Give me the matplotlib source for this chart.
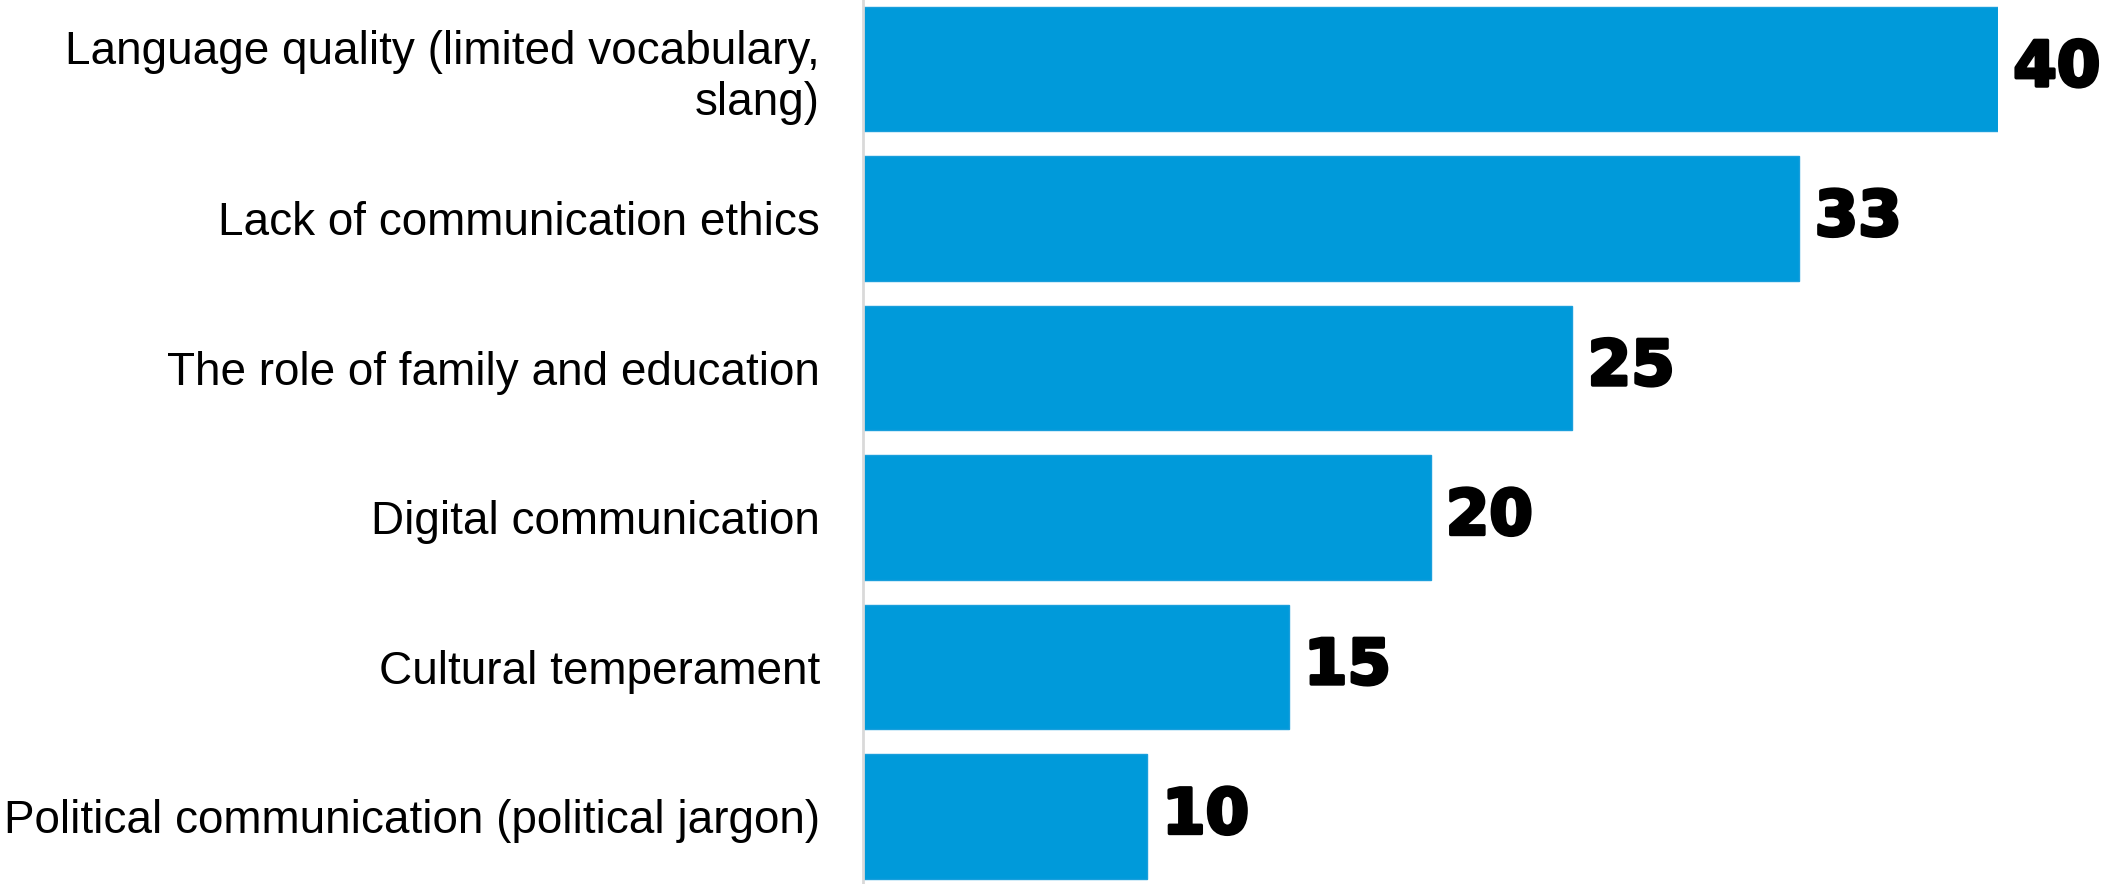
import matplotlib.pyplot as plt
import matplotlib.patheffects as pe

# data
labels = [
    "Language quality (limited vocabulary,\nslang)",
    "Lack of communication ethics",
    "The role of family and education",
    "Digital communication",
    "Cultural temperament",
    "Political communication (political jargon)",
]
values = [40, 33, 25, 20, 15, 10]

fig = plt.figure(figsize=(21.03, 8.84), dpi=100)
ax = fig.add_axes([0.4104, 0.0, 0.5397, 1.0])

y = list(range(len(values)))
ax.barh(y, values, height=0.833, color="#009ADA", edgecolor="#1a9fdc", linewidth=1)

ax.set_xlim(0, 40)
ax.set_ylim(5.452, -0.4615)

for yi, v in zip(y, values):
    ax.annotate(str(v), (v, yi), xytext=(11, 0), textcoords="offset points",
                va="center", ha="left", fontsize=45, fontfamily="DejaVu Sans",
                fontweight="bold", color="black", annotation_clip=False,
                path_effects=[pe.withStroke(linewidth=2.5, foreground="black")])

ax.set_yticks(y)
ax.set_yticklabels(labels, fontsize=33, fontfamily="Liberation Sans", linespacing=1.2)
ax.tick_params(axis="y", length=0, pad=31)
ax.set_xticks([])

for s in ["top", "right", "bottom"]:
    ax.spines[s].set_visible(False)
ax.spines["left"].set_color("#d9d9d9")
ax.spines["left"].set_linewidth(2)

fig.savefig("out.png", dpi=100)
